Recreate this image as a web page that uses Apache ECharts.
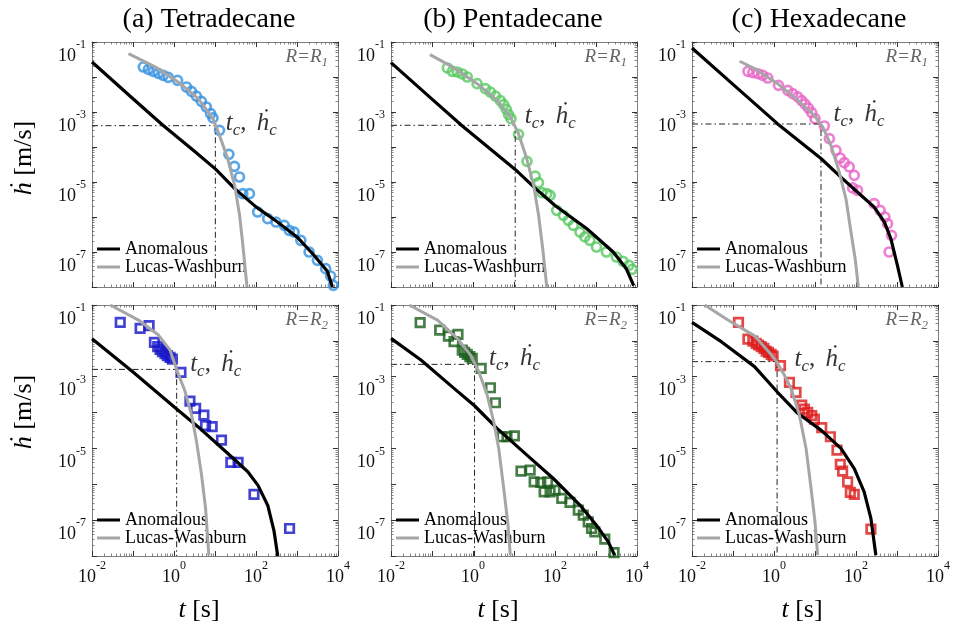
<!DOCTYPE html>
<html><head><meta charset="utf-8">
<script src="https://cdn.jsdelivr.net/npm/echarts@6/dist/echarts.min.js"></script>
<style>html,body{margin:0;padding:0;background:#fff}#c{width:953px;height:624px}</style>
</head><body><div id="c"></div>
<script>
// ---------- labels ----------
const titles = ['(a) Tetradecane', '(b) Pentadecane', '(c) Hexadecane'];
const rowSub = ['1', '2'];
const xRange = [1e-2, 1e4];
const yRange = [1e-8, 1e-1];

// ---------- (a) Tetradecane, R = R1 ----------
const a1_t = [0.179,0.237,0.313,0.414,0.547,0.723,1.22,2.01,2.66,3.52,4.66,6.15,7.83,8.93,12.9,21.8,29.9,39.5,47.6,69.2,110,193,307,489,646,851,1239,1972,3141,5000,6607,7674];
const a1_h = [1.93e-2,1.66e-2,1.45e-2,1.27e-2,1.12e-2,9.77e-3,8.04e-3,5.18e-3,3.89e-3,2.86e-3,2.02e-3,1.39e-3,8.95e-4,6.75e-4,2.99e-4,6.17e-5,2.81e-5,1.39e-5,4.65e-6,4.65e-6,1.39e-6,8.95e-7,7.19e-7,5.78e-7,4.16e-7,3.72e-7,2.15e-7,1.0e-7,5.78e-8,3.34e-8,2.06e-8,1.12e-8];
const a1_anom_t = [0.01,0.1,0.537,3.16,10.5,30.2,100,316,1000,2630,5500,7300];
const a1_anom_h = [2.69e-2,2.4e-3,4.17e-4,7.59e-5,2.29e-5,6.46e-6,1.95e-6,7.59e-7,2.69e-7,7.94e-8,2.82e-8,1.0e-8];
const a1_lw_t = [0.0776,0.347,1.26,3.89,8.91,12.9,20.4,30.2,39.8,47.9,60.3];
const a1_lw_h = [4.68e-2,1.95e-2,7.24e-3,2.40e-3,6.46e-4,2.14e-4,4.68e-5,7.94e-6,1.12e-6,1.55e-7,1.0e-8];
const a1_c = [10.2, 4.07e-4];

// ---------- (b) Pentadecane, R = R1 ----------
const b1_t = [0.237,0.313,0.414,0.547,0.723,1.26,2.01,2.66,3.52,4.66,5.61,6.50,7.41,8.45,12.9,20.7,32.9,39.5,47.6,63.1,75.9,110,160,211,279,406,536,708,1028,1799,3141,4560,6368,7674];
const b1_h = [1.81e-2,1.45e-2,1.39e-2,1.22e-2,1.0e-2,6.46e-3,4.65e-3,3.72e-3,2.86e-3,2.11e-3,1.62e-3,1.19e-3,8.39e-4,6.46e-4,2.30e-4,3.89e-5,1.48e-5,9.57e-6,4.95e-6,4.65e-6,4.16e-6,1.55e-6,1.12e-6,8.04e-7,5.78e-7,3.72e-7,2.69e-7,2.15e-7,1.39e-7,1.0e-7,7.19e-8,5.41e-8,4.16e-8,3.20e-8];
const b1_anom_t = [0.01,0.1,0.55,10.7,30.2,100,589,2630,5500,8300];
const b1_anom_h = [2.57e-2,2.34e-3,3.98e-4,2.29e-5,7.24e-6,2.14e-6,4.68e-7,1.0e-7,3.31e-8,1.1e-8];
const b1_lw_t = [0.0891,0.347,1.26,3.89,8.13,12.9,20.4,30.2,39.8,50.1,63.1];
const b1_lw_h = [4.37e-2,1.82e-2,6.46e-3,2.14e-3,7.24e-4,2.40e-4,4.68e-5,7.94e-6,1.12e-6,1.26e-7,1.0e-8];
const b1_c = [10.7, 4.17e-4];

// ---------- (c) Hexadecane, R = R1 ----------
const c1_t = [0.231,0.305,0.404,0.533,0.706,1.29,2.17,2.86,3.79,4.74,5.72,6.89,8.32,10.0,16.9,22.4,32.5,41.4,51.9,68.5,90.8,82.6,109,278,389,506,587,735,644];
const c1_h = [1.45e-2,1.33e-2,1.24e-2,1.12e-2,9.35e-3,5.78e-3,4.16e-3,3.34e-3,2.69e-3,2.11e-3,1.69e-3,1.30e-3,9.57e-4,6.46e-4,3.98e-4,1.73e-4,8.04e-5,4.85e-5,3.56e-5,2.69e-5,1.55e-5,6.75e-6,5.78e-6,2.40e-6,1.55e-6,1.0e-6,6.46e-7,2.99e-7,1.0e-7];
const c1_anom_t = [0.01,0.1,1.23,14.0,42.7,132,275,490,708,1023,1349];
const c1_anom_h = [6.76e-2,6.17e-3,4.57e-4,4.68e-5,1.38e-5,4.17e-6,1.95e-6,7.24e-7,2.40e-7,4.17e-8,1.0e-8];
const c1_lw_t = [0.145,0.335,1.23,3.80,9.66,15.5,24.5,38.9,56.9,75.3,95.5,114];
const c1_lw_h = [2.82e-2,1.74e-2,6.46e-3,2.14e-3,7.94e-4,3.72e-4,1.12e-4,1.95e-5,3.31e-6,3.72e-7,6.46e-8,1.0e-8];
const c1_c = [14.0, 4.54e-4];

// ---------- (a) Tetradecane, R = R2 ----------
const a2_t = [0.0488,0.149,0.247,0.333,0.401,0.457,0.521,0.604,0.689,0.800,0.912,1.48,2.45,3.36,5.36,5.88,8.53,14.4,24.3,36.6,89.3,658];
const a2_h = [3.28e-2,2.23e-2,2.65e-2,9.08e-3,6.87e-3,5.79e-3,4.99e-3,4.39e-3,3.85e-3,3.47e-3,3.11e-3,1.32e-3,2.09e-4,1.31e-4,8.51e-5,4.30e-5,4.03e-5,1.71e-5,4.06e-6,4.06e-6,5.20e-7,5.85e-8];
const a2_anom_t = [0.01,0.1,1.16,3.89,20.9,63.1,112,195,275,339];
const a2_anom_h = [1.15e-2,1.35e-3,1.26e-4,3.98e-5,7.08e-6,2.24e-6,9.33e-7,2.51e-7,5.01e-8,1.0e-8];
const a2_lw_t = [0.0279,0.136,0.417,0.794,1.16,1.85,2.69,3.55,4.70,5.89,7.08];
const a2_lw_h = [1.0e-1,3.80e-2,1.45e-2,5.62e-3,1.58e-3,3.98e-4,8.51e-5,1.55e-5,1.82e-6,2.14e-7,1.05e-8];
const a2_c = [1.16, 1.60e-3];

// ---------- (b) Pentadecane, R = R2 ----------
const b2_t = [0.0514,0.154,0.251,0.430,0.344,0.547,0.624,0.723,0.839,0.957,1.58,2.66,3.52,5.11,6.75,10.2,14.8,24.8,31.0,45.1,65.5,54.3,75.9,100,146,232,370,489,646,778,938,1637,2761];
const b2_h = [3.21e-2,2.00e-2,1.36e-2,1.52e-2,9.48e-3,5.55e-3,4.77e-3,4.20e-3,3.61e-3,3.25e-3,1.71e-3,4.93e-4,1.88e-4,2.12e-5,2.12e-5,2.25e-5,2.33e-6,2.48e-6,1.17e-6,1.12e-6,1.17e-6,6.18e-7,6.18e-7,6.87e-7,4.03e-7,3.11e-7,1.90e-7,1.38e-7,8.97e-8,5.85e-8,4.72e-8,2.95e-8,1.25e-8];
const b2_anom_t = [0.01,0.0537,0.344,1.09,3.86,20.7,91.2,406,1023,1972,2864];
const b2_anom_h = [1.17e-2,2.92e-3,4.72e-4,1.55e-4,3.63e-5,6.52e-6,1.45e-6,2.63e-7,7.24e-8,2.51e-8,1.05e-8];
const b2_lw_t = [0.0279,0.136,0.414,0.871,1.39,2.21,3.21,4.24,5.61,7.02,8.13];
const b2_lw_h = [1.0e-1,3.80e-2,1.17e-2,4.03e-3,1.38e-3,3.09e-4,5.55e-5,1.0e-5,7.66e-7,8.97e-8,1.05e-8];
const b2_c = [1.09, 2.21e-3];

// ---------- (c) Hexadecane, R = R2 ----------
const c2_t = [0.136,0.231,0.305,0.367,0.419,0.486,0.565,0.644,0.733,0.851,0.953,1.44,2.38,3.45,4.74,5.51,6.64,8.32,9.66,14.6,23.7,34.4,41.4,47.2,62.5,72.6,90.8,231];
const c2_h = [3.28e-2,1.12e-2,9.89e-3,8.51e-3,7.66e-3,6.87e-3,6.18e-3,5.20e-3,4.77e-3,4.20e-3,3.78e-3,2.03e-3,6.95e-4,3.66e-4,1.62e-4,1.25e-4,1.01e-4,8.17e-5,6.59e-5,3.78e-5,2.12e-5,8.97e-6,3.57e-6,2.33e-6,1.17e-6,5.92e-7,5.20e-7,5.61e-8];
const c2_anom_t = [0.01,0.0518,0.335,1.19,3.79,14.0,43.0,90.8,158,231,305];
const c2_anom_h = [3.28e-2,9.48e-3,1.91e-3,3.80e-4,9.55e-5,3.24e-5,1.0e-5,2.75e-6,6.17e-7,1.12e-7,1.05e-8];
const c2_lw_t = [0.0204,0.0752,0.335,0.851,1.19,1.78,2.61,4.17,6.05,8.02,10.0,11.6];
const c2_lw_h = [1.0e-1,3.80e-2,1.38e-2,4.17e-3,2.51e-3,1.12e-3,4.68e-4,8.51e-5,1.0e-5,7.66e-7,8.97e-8,1.05e-8];
const c2_c = [1.19, 2.63e-3];

// ---------- layout / style ----------
const FONT = '"Liberation Serif", "Times New Roman", "DejaVu Serif", serif';
const colLeft = [92, 391, 692];
const colW = 246;
const rowTop = [42, 305];
const rowH = [245, 251];

const panels = [
  {t:a1_t,h:a1_h,at:a1_anom_t,ah:a1_anom_h,lt:a1_lw_t,lh:a1_lw_h,c:a1_c,color:'#3590e0',sym:'circle',row:0,col:0,off:[5,-1]},
  {t:b1_t,h:b1_h,at:b1_anom_t,ah:b1_anom_h,lt:b1_lw_t,lh:b1_lw_h,c:b1_c,color:'#58c862',sym:'circle',row:0,col:1,off:[4,-7]},
  {t:c1_t,h:c1_h,at:c1_anom_t,ah:c1_anom_h,lt:c1_lw_t,lh:c1_lw_h,c:c1_c,color:'#e862c6',sym:'circle',row:0,col:2,off:[7,-8]},
  {t:a2_t,h:a2_h,at:a2_anom_t,ah:a2_anom_h,lt:a2_lw_t,lh:a2_lw_h,c:a2_c,color:'#1414c8',sym:'rect',row:1,col:0,off:[8,-3]},
  {t:b2_t,h:b2_h,at:b2_anom_t,ah:b2_anom_h,lt:b2_lw_t,lh:b2_lw_h,c:b2_c,color:'#195c19',sym:'rect',row:1,col:1,off:[9,-4]},
  {t:c2_t,h:c2_h,at:c2_anom_t,ah:c2_anom_h,lt:c2_lw_t,lh:c2_lw_h,c:c2_c,color:'#dc1a1a',sym:'rect',row:1,col:2,off:[12,-1]}
];

function zip(a, b) { return a.map((v, i) => [v, b[i]]); }
const tickRich = {
  b: {fontFamily: FONT, fontSize: 18, lineHeight: 26, verticalAlign: 'bottom', color: '#111'},
  s: {fontFamily: FONT, fontSize: 12, lineHeight: 14, verticalAlign: 'top', color: '#111'}
};
function expOf(v) { return Math.round(Math.log10(v)); }

const grids = [], xAxes = [], yAxes = [], series = [], legends = [], graphics = [];
const lineCol = '#7d7d7d';

panels.forEach((p, i) => {
  const left = colLeft[p.col], top = rowTop[p.row], h = rowH[p.row];
  grids.push({left: left, top: top, width: colW, height: h, show: false});
  const common = {
    type: 'log', logBase: 10, gridIndex: i, splitLine: {show: false},
    axisLine: {show: true, onZero: false, lineStyle: {color: lineCol, width: 1}},
    axisTick: {show: true, inside: true, length: 5, lineStyle: {color: '#333', width: 1}},
    minorTick: {show: true, splitNumber: 9, length: 2.5, lineStyle: {color: '#666', width: 0.8}}
  };
  xAxes.push(Object.assign({}, common, {
    min: xRange[0], max: xRange[1], splitNumber: 6, position: 'bottom',
    axisLabel: {show: p.row === 1, margin: 4, formatter: v => { const e = expOf(v); return e % 2 === 0 ? '{b|10}{s|' + e + '}' : ''; }, rich: tickRich}
  }));
  xAxes.push(Object.assign({}, common, {min: xRange[0], max: xRange[1], splitNumber: 6, position: 'top', axisLabel: {show: false}}));
  yAxes.push(Object.assign({}, common, {
    min: yRange[0], max: yRange[1], splitNumber: 7, position: 'left',
    axisLabel: {show: true, margin: 6, padding: [20, 0, 0, 0], formatter: v => { const e = expOf(v); return e % 2 !== 0 ? '{b|10}{s|' + e + '}' : ''; }, rich: tickRich}
  }));
  yAxes.push(Object.assign({}, common, {min: yRange[0], max: yRange[1], splitNumber: 7, position: 'right', axisLabel: {show: false}}));

  const xi = 2 * i, yi = 2 * i;
  series.push({
    type: 'scatter', xAxisIndex: xi, yAxisIndex: yi, data: zip(p.t, p.h), symbol: p.sym,
    symbolSize: p.sym === 'rect' ? 8.5 : 9,
    itemStyle: {color: 'rgba(0,0,0,0)', borderColor: p.color, borderWidth: 2.7}, silent: true, z: 2
  });
  series.push({
    type: 'line', name: 'tc-guide', xAxisIndex: xi, yAxisIndex: yi,
    data: [[xRange[0], p.c[1]], [p.c[0], p.c[1]], [p.c[0], yRange[0]]],
    symbol: 'none', lineStyle: {color: '#222', width: 1, type: [6, 3, 1.5, 3]}, silent: true, z: 3
  });
  series.push({
    type: 'line', name: 'Anomalous', xAxisIndex: xi, yAxisIndex: yi, data: zip(p.at, p.ah),
    symbol: 'none', smooth: false, lineStyle: {color: '#000', width: 3.2, join: 'round'}, itemStyle: {color: '#000'}, silent: true, z: 4
  });
  series.push({
    type: 'line', name: 'Lucas-Washburn', xAxisIndex: xi, yAxisIndex: yi, data: zip(p.lt, p.lh),
    symbol: 'none', smooth: false, lineStyle: {color: '#a6a6a6', width: 3, join: 'round'}, itemStyle: {color: '#a6a6a6'}, silent: true, z: 4
  });
  series.push({
    type: 'scatter', name: 'tc-label', xAxisIndex: xi, yAxisIndex: yi, data: [p.c], symbolSize: 1,
    itemStyle: {color: 'rgba(0,0,0,0)'}, silent: true, z: 5,
    label: {
      show: true, position: 'right', distance: 5, offset: p.off,
      formatter: '{i|t}{s|c}{n|, }{i|ḣ}{s|c}',
      rich: {
        i: {fontFamily: FONT, fontStyle: 'italic', fontSize: 25, lineHeight: 28, verticalAlign: 'top', color: '#000'},
        s: {fontFamily: FONT, fontStyle: 'italic', fontSize: 17, lineHeight: 14, verticalAlign: 'bottom', color: '#000'},
        n: {fontFamily: FONT, fontSize: 25, lineHeight: 28, verticalAlign: 'top', color: '#000', padding: [0, 4, 0, 0]}
      }
    }
  });

  legends.push({
    left: left + 5, top: top + (p.row === 0 ? 198 : 206), orient: 'vertical', padding: 0, itemGap: 0,
    itemWidth: 23, itemHeight: 3, icon: 'rect', selectedMode: false,
    textStyle: {fontFamily: FONT, fontSize: 18, color: '#000', lineHeight: 17},
    data: ['Anomalous', 'Lucas-Washburn']
  });

  graphics.push({
    type: 'text', x: left + colW - 10, y: top + 16, silent: true,
    style: {
      text: '{r|R=R}{k|' + rowSub[p.row] + '}', align: 'right', verticalAlign: 'middle',
      rich: {
        r: {fontFamily: FONT, fontStyle: 'italic', fontSize: 19, fill: '#666', lineHeight: 22, verticalAlign: 'top'},
        k: {fontFamily: FONT, fontStyle: 'italic', fontSize: 13, fill: '#666', lineHeight: 14, verticalAlign: 'bottom'}
      }
    }
  });
});

const titleX = [209, 513, 819];
titles.forEach((t, j) => {
  graphics.push({type: 'text', x: titleX[j], y: 20, silent: true,
    style: {text: t, fontFamily: FONT, fontSize: 28, fill: '#000', align: 'center', verticalAlign: 'middle'}});
});
const axRich = {
  i: {fontFamily: FONT, fontStyle: 'italic', fontSize: 26, fill: '#000'},
  p: {fontFamily: FONT, fontSize: 26, fill: '#000'}
};
[158, 412].forEach(y => {
  graphics.push({type: 'text', x: 24, y: y, rotation: Math.PI / 2, silent: true,
    style: {text: '{i|ḣ}{p| [m/s]}', rich: axRich, align: 'center', verticalAlign: 'middle'}});
});
[199, 498, 802].forEach(x => {
  graphics.push({type: 'text', x: x, y: 610, silent: true,
    style: {text: '{i|t}{p| [s]}', rich: axRich, align: 'center', verticalAlign: 'middle'}});
});

const chart = echarts.init(document.getElementById('c'), null, {renderer: 'canvas'});
chart.setOption({
  animation: false,
  backgroundColor: '#fff',
  grid: grids, xAxis: xAxes, yAxis: yAxes, series: series, legend: legends, graphic: graphics
});
</script>
</body></html>
